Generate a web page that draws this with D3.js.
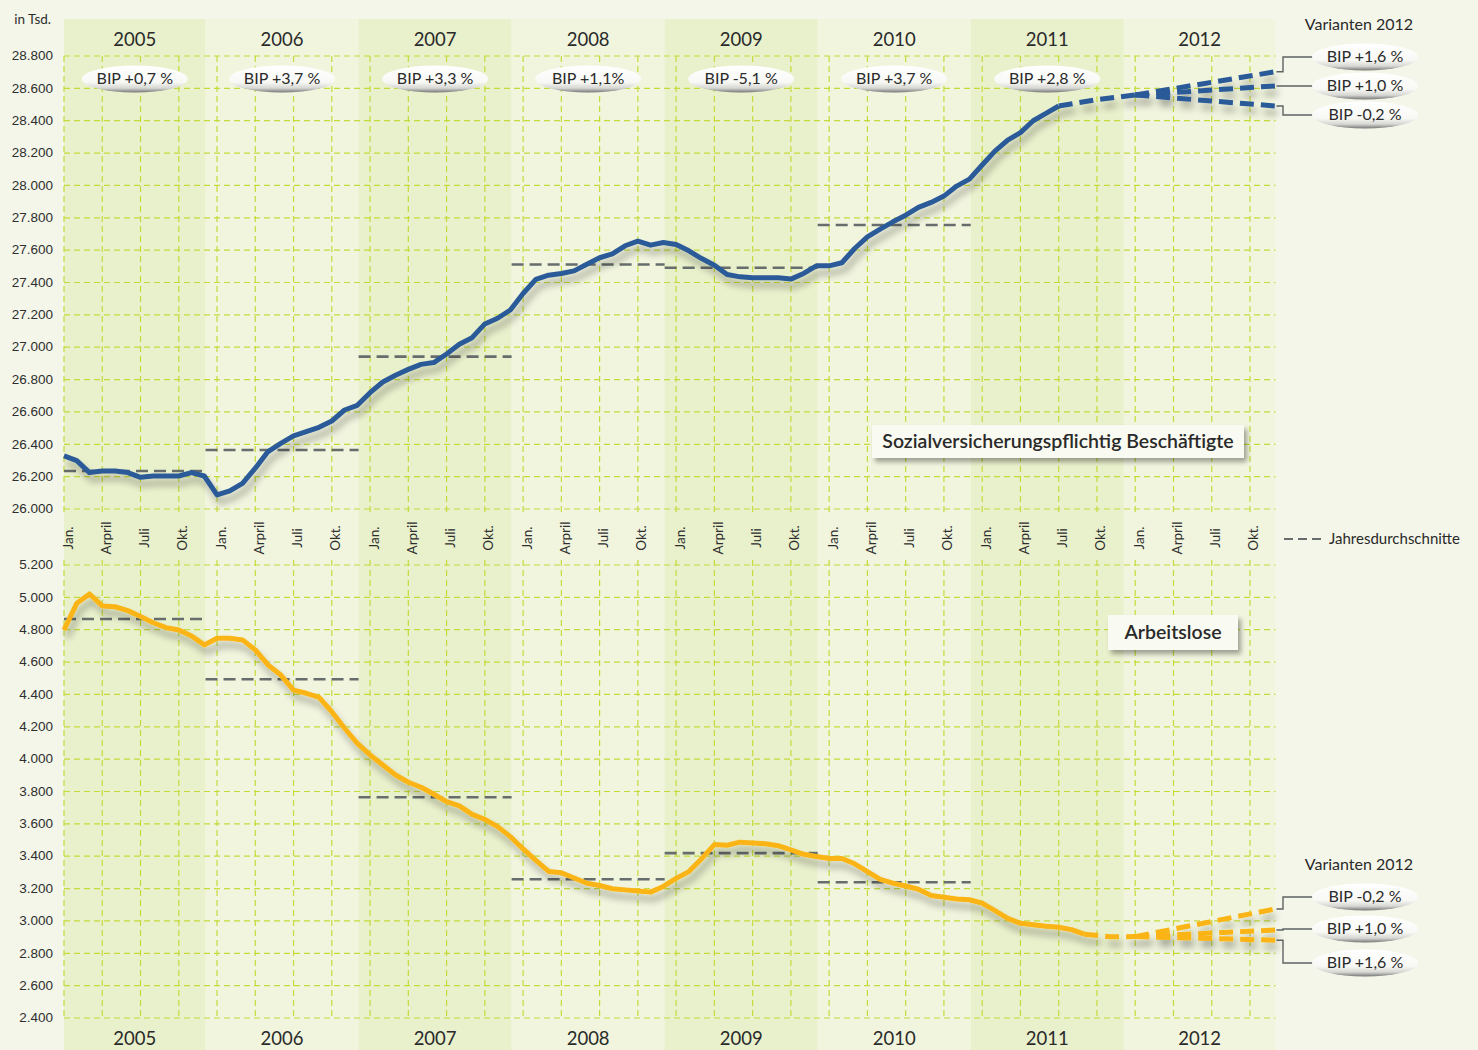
<!DOCTYPE html>
<html lang="de">
<head>
<meta charset="utf-8">
<script src="https://d3js.org/d3.v7.min.js"></script>
<style>
body { margin: 0; background: #f4f6e9; }
svg { display: block; font-family: Lato, "Open Sans", sans-serif; }
.tick-label { font-size: 13.5px; fill: #2e2e2e; }
.grid { stroke: #c6da3c; stroke-width: 1.2; stroke-dasharray: 6,4; fill: none; }
.avg { stroke: #666d6c; stroke-width: 2.6; stroke-dasharray: 12,6; fill: none; }
</style>
</head>
<body>
<svg width="1478" height="1050"></svg>
<script>
// ---- data (monthly values, index 0 = Jan. 2005) ----
var years = [2005, 2006, 2007, 2008, 2009, 2010, 2011, 2012];
var monthLabels = ["Jan.", "Arpril", "Juli", "Okt."];
var bipLabels = ["BIP +0,7 %", "BIP +3,7 %", "BIP +3,3 %", "BIP +1,1%", "BIP -5,1 %", "BIP +3,7 %", "BIP +2,8 %"];
var topTicks = [26000, 26200, 26400, 26600, 26800, 27000, 27200, 27400, 27600, 27800, 28000, 28200, 28400, 28600, 28800];
var bottomTicks = [2400, 2600, 2800, 3000, 3200, 3400, 3600, 3800, 4000, 4200, 4400, 4600, 4800, 5000, 5200];

// Sozialversicherungspflichtig Beschäftigte, Jan. 2005 - Juli 2011
var beschaeftigte = [
  26328, 26299, 26225, 26235, 26235, 26225, 26196, 26204, 26204, 26204, 26225, 26204,
  26087, 26112, 26159, 26252, 26355, 26406, 26452, 26478, 26505, 26544, 26612, 26641,
  26719, 26785, 26827, 26863, 26894, 26905, 26958, 27018, 27059, 27144, 27179, 27230,
  27332, 27419, 27445, 27456, 27472, 27513, 27553, 27577, 27627, 27656, 27631, 27647,
  27635, 27596, 27548, 27507, 27449, 27435, 27429, 27429, 27429, 27421, 27456, 27503,
  27503, 27522, 27610, 27682, 27730, 27775, 27816, 27864, 27895, 27934, 27996, 28039,
  28126, 28212, 28280, 28326, 28400, 28445, 28491
];
// Arbeitslose, Jan. 2005 - Sept. 2011
var arbeitslose = [
  4798, 4963, 5021, 4947, 4942, 4918, 4881, 4843, 4813, 4798, 4761, 4706,
  4747, 4747, 4737, 4675, 4582, 4520, 4427, 4407, 4382, 4293, 4191, 4098,
  4026, 3964, 3902, 3857, 3826, 3783, 3737, 3711, 3659, 3628, 3583, 3521,
  3445, 3375, 3306, 3298, 3265, 3233, 3219, 3199, 3192, 3185, 3178, 3213,
  3263, 3305, 3385, 3472, 3468, 3487, 3482, 3477, 3465, 3439, 3412, 3398,
  3386, 3386, 3353, 3305, 3257, 3233, 3216, 3196, 3157, 3146, 3136, 3131,
  3110, 3064, 3016, 2985, 2977, 2967, 2961, 2946, 2918
];
// Jahresdurchschnitte 2005-2010
var beschAvg = [26235, 26365, 26942, 27511, 27491, 27755];
var arbAvg = [4866, 4494, 3764, 3258, 3419, 3239];

// Varianten 2012: [month index, value]
var beschBridge = [[78, 28491], [81, 28530], [84, 28559]];
var beschVariants = [
  { label: "BIP +1,6 %", pts: [[84, 28559], [95, 28703]] },
  { label: "BIP +1,0 %", pts: [[84, 28559], [95, 28615]] },
  { label: "BIP -0,2 %", pts: [[84, 28559], [95, 28491]] }
];
var arbBridge = [[80, 2918], [82, 2902], [84, 2903]];
var arbVariants = [
  { label: "BIP -0,2 %", pts: [[84, 2903], [95, 3074]] },
  { label: "BIP +1,0 %", pts: [[84, 2903], [95, 2944]] },
  { label: "BIP +1,6 %", pts: [[84, 2903], [95, 2881]] }
];

var blue = "#2b5a97", orange = "#fbb417";
var fmt = d3.formatLocale({ decimal: ",", thousands: ".", grouping: [3], currency: ["", ""] }).format(",d");

var svg = d3.select("svg");
var x = d3.scaleLinear().domain([0, 95]).range([64, 1275.5]);
var yTop = d3.scaleLinear().domain([26000, 28800]).range([509, 56]);
var yBot = d3.scaleLinear().domain([2400, 5200]).range([1018, 565]);

// ---- filters / gradients ----
var defs = svg.append("defs");
var sh = defs.append("filter").attr("id", "lineShadow")
  .attr("filterUnits", "userSpaceOnUse").attr("x", 0).attr("y", 0).attr("width", 1478).attr("height", 1050);
sh.append("feGaussianBlur").attr("in", "SourceAlpha").attr("stdDeviation", 3.5).attr("result", "b");
sh.append("feOffset").attr("in", "b").attr("dx", 3).attr("dy", 7).attr("result", "o");
sh.append("feComponentTransfer").attr("in", "o").attr("result", "s")
  .append("feFuncA").attr("type", "linear").attr("slope", 0.3);
var m1 = sh.append("feMerge");
m1.append("feMergeNode").attr("in", "s");
m1.append("feMergeNode").attr("in", "SourceGraphic");

var bs = defs.append("filter").attr("id", "boxShadow")
  .attr("filterUnits", "userSpaceOnUse").attr("x", 0).attr("y", 0).attr("width", 1478).attr("height", 1050);
bs.append("feGaussianBlur").attr("in", "SourceAlpha").attr("stdDeviation", 2.5).attr("result", "b");
bs.append("feOffset").attr("in", "b").attr("dx", 3).attr("dy", 4).attr("result", "o");
bs.append("feComponentTransfer").attr("in", "o").attr("result", "s")
  .append("feFuncA").attr("type", "linear").attr("slope", 0.35);
var m2 = bs.append("feMerge");
m2.append("feMergeNode").attr("in", "s");
m2.append("feMergeNode").attr("in", "SourceGraphic");

var eg = defs.append("linearGradient").attr("id", "ellGrad").attr("x1", 0).attr("y1", 0).attr("x2", 0).attr("y2", 1);
eg.append("stop").attr("offset", "0%").attr("stop-color", "#ffffff");
eg.append("stop").attr("offset", "62%").attr("stop-color", "#f8f8f5");
eg.append("stop").attr("offset", "84%").attr("stop-color", "#d6d6d3");
eg.append("stop").attr("offset", "100%").attr("stop-color", "#767676");

// ---- background and year bands ----
svg.append("rect").attr("width", 1478).attr("height", 1050).attr("fill", "#f4f6e9");
svg.selectAll(".band").data(years).enter().append("rect")
  .attr("class", "band")
  .attr("x", function (d, i) { return Math.max(x(0), x(i * 12 - 0.9)); })
  .attr("width", function (d, i) { return Math.min(x(95), x(i * 12 + 11.1)) - Math.max(x(0), x(i * 12 - 0.9)); })
  .attr("y", 19).attr("height", 1031)
  .attr("fill", function (d, i) { return i % 2 == 0 ? "#e9f0cc" : "#f1f5de"; });

function bandCenter(i) {
  return (Math.max(x(0), x(i * 12 - 0.9)) + Math.min(x(95), x(i * 12 + 11.1))) / 2;
}

// ---- grids ----
var quarters = d3.range(0, 96, 3);
function drawGrid(ticks, y, y0, y1) {
  var g = svg.append("g");
  g.selectAll(".h").data(ticks).enter().append("line").attr("class", "grid")
    .attr("x1", x(0)).attr("x2", x(95)).attr("y1", function (d) { return y(d); }).attr("y2", function (d) { return y(d); });
  g.selectAll(".v").data(quarters).enter().append("line").attr("class", "grid")
    .attr("x1", function (d) { return x(d); }).attr("x2", function (d) { return x(d); })
    .attr("y1", y0).attr("y2", y1);
}
drawGrid(topTicks, yTop, yTop(28800), yTop(26000) + 5);
drawGrid(bottomTicks, yBot, yBot(5200) - 5, yBot(2400));

// ---- y axes ----
function drawAxis(scale, ticks) {
  var ax = svg.append("g").attr("transform", "translate(53,0)")
    .call(d3.axisLeft(scale).tickValues(ticks).tickFormat(fmt).tickSize(0).tickPadding(0));
  ax.select(".domain").remove();
  ax.selectAll("text").attr("class", "tick-label").attr("dy", "0.28em");
}
drawAxis(yTop, topTicks);
drawAxis(yBot, bottomTicks);
svg.append("text").attr("x", 51).attr("y", 24).attr("text-anchor", "end")
  .attr("font-size", 13.5).attr("fill", "#2e2e2e").text("in Tsd.");

// ---- month and year labels ----
svg.selectAll(".mon").data(quarters).enter().append("text")
  .attr("transform", function (d) { return "translate(" + (x(d) + 8.5) + ",538) rotate(-90)"; })
  .attr("text-anchor", "middle").attr("font-size", 13.5).attr("fill", "#2e2e2e")
  .text(function (d) { return monthLabels[(d % 12) / 3]; });

svg.selectAll(".yrTop").data(years).enter().append("text")
  .attr("x", function (d, i) { return bandCenter(i); }).attr("y", 46)
  .attr("text-anchor", "middle").attr("font-size", 18.5).attr("fill", "#2a2a2a")
  .text(function (d) { return d; });
svg.selectAll(".yrBot").data(years).enter().append("text")
  .attr("x", function (d, i) { return bandCenter(i); }).attr("y", 1045)
  .attr("text-anchor", "middle").attr("font-size", 18.5).attr("fill", "#2a2a2a")
  .text(function (d) { return d; });

// ---- annual averages ----
function drawAvg(vals, y) {
  svg.append("g").selectAll("line").data(vals).enter().append("line").attr("class", "avg")
    .attr("x1", function (d, i) { return Math.max(x(0), x(i * 12 - 0.9)); })
    .attr("x2", function (d, i) { return x(i * 12 + 11.1); })
    .attr("y1", function (d) { return y(d); }).attr("y2", function (d) { return y(d); });
}
drawAvg(beschAvg, yTop);
drawAvg(arbAvg, yBot);

// ---- lines ----
function drawSeries(vals, bridge, variants, y, color) {
  var line = d3.line().x(function (d) { return x(d[0]); }).y(function (d) { return y(d[1]); });
  var g = svg.append("g").attr("filter", "url(#lineShadow)")
    .attr("fill", "none").attr("stroke", color).attr("stroke-width", 5);
  g.append("path").attr("stroke-linejoin", "round")
    .attr("d", line(vals.map(function (v, i) { return [i, v]; })));
  g.append("path").attr("stroke-dasharray", "14,7").attr("d", line(bridge));
  variants.forEach(function (v) {
    g.append("path").attr("stroke-dasharray", "14,7").attr("d", line(v.pts));
  });
}
drawSeries(beschaeftigte, beschBridge, beschVariants, yTop, blue);
drawSeries(arbeitslose, arbBridge, arbVariants, yBot, orange);

// ---- BIP ellipses ----
function pill(cx, cy, label, rx) {
  var g = svg.append("g");
  g.append("ellipse").attr("cx", cx).attr("cy", cy).attr("rx", rx).attr("ry", 13.5)
    .attr("fill", "url(#ellGrad)");
  g.append("text").attr("x", cx).attr("y", cy).attr("dy", "0.33em").attr("text-anchor", "middle")
    .attr("font-size", 16).attr("fill", "#2a2a2a").text(label);
}
bipLabels.forEach(function (b, i) { pill(bandCenter(i), 79, b, 53); });

// ---- Varianten 2012 labels ----
function drawVariants(variants, y, labelYs, titleY) {
  svg.append("text").attr("x", 1359).attr("y", titleY).attr("text-anchor", "middle")
    .attr("font-size", 16).attr("fill", "#2a2a2a").text("Varianten 2012");
  variants.forEach(function (v, i) {
    var ey = y(v.pts[v.pts.length - 1][1]);
    svg.append("path").attr("fill", "none").attr("stroke", "#5e6362").attr("stroke-width", 1.4)
      .attr("d", "M" + (x(95) + 1) + "," + ey + "H1283V" + labelYs[i] + "H1318");
    pill(1365, labelYs[i], v.label, 53);
  });
}
drawVariants(beschVariants, yTop, [57, 86, 115], 30);
drawVariants(arbVariants, yBot, [897, 929, 963], 870);

// ---- series titles ----
function titleBox(x0, y0, w, h, label) {
  svg.append("rect").attr("x", x0).attr("y", y0).attr("width", w).attr("height", h)
    .attr("fill", "#f9faf1").attr("filter", "url(#boxShadow)");
  svg.append("text").attr("x", x0 + w / 2).attr("y", y0 + h / 2).attr("dy", "0.35em")
    .attr("text-anchor", "middle").attr("font-size", 19.5).attr("font-weight", 600)
    .attr("fill", "#2a2a2a").text(label);
}
titleBox(872, 425, 372, 33, "Sozialversicherungspflichtig Beschäftigte");
titleBox(1108, 615, 130, 35, "Arbeitslose");

// ---- legend ----
svg.append("line").attr("x1", 1284).attr("x2", 1321).attr("y1", 539).attr("y2", 539)
  .attr("stroke", "#666d6c").attr("stroke-width", 2).attr("stroke-dasharray", "9,5");
svg.append("text").attr("x", 1329).attr("y", 539).attr("dy", "0.35em")
  .attr("font-size", 15).attr("fill", "#2a2a2a").text("Jahresdurchschnitte");
</script>
</body>
</html>
